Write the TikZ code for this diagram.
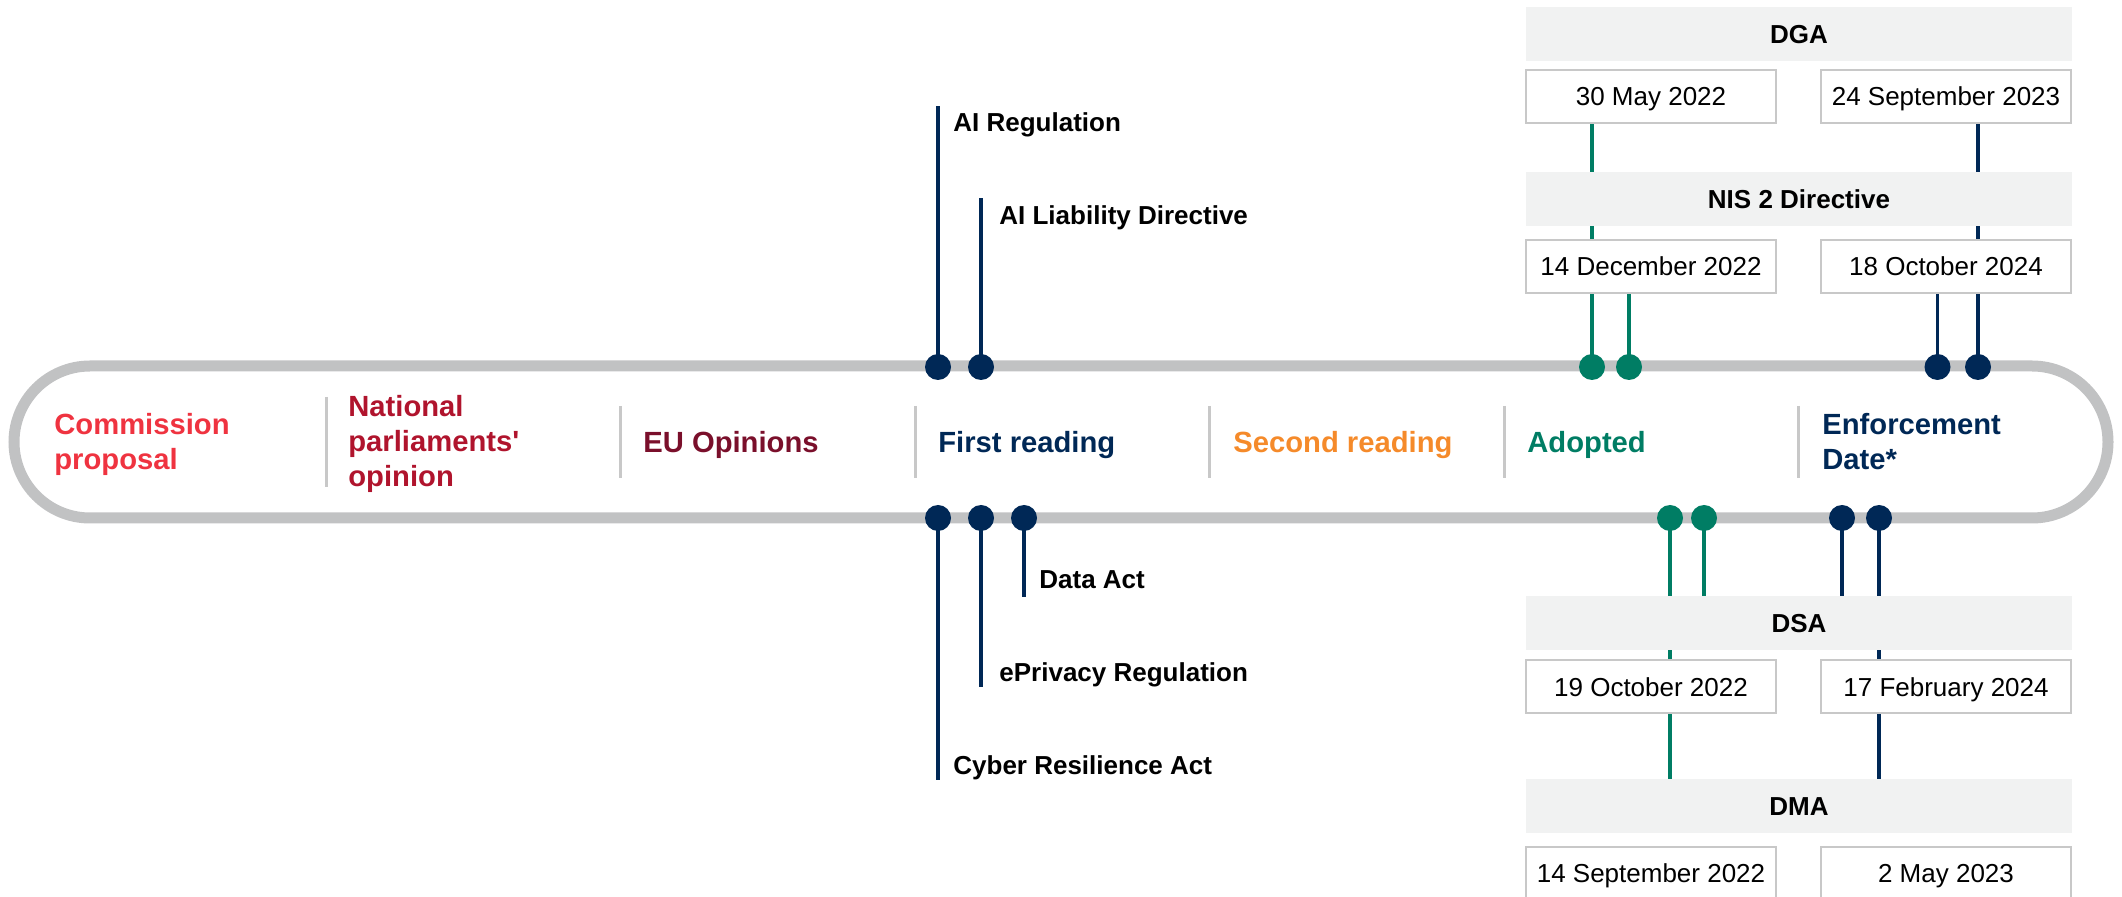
\documentclass[tikz,border=0pt]{standalone}
\usepackage{fontspec}
\setmainfont{Liberation Sans}[Ligatures=TeXOff]
\pgfdeclarelayer{background}
\pgfsetlayers{background,main}

\definecolor{navy}{RGB}{0,40,86}
\definecolor{teal}{RGB}{0,125,100}
\definecolor{trackgray}{RGB}{193,194,195}
\definecolor{sepgray}{RGB}{200,200,200}
\definecolor{headfill}{RGB}{241,242,242}
\definecolor{boxgray}{RGB}{200,200,200}
\definecolor{cred}{RGB}{239,51,64}
\definecolor{cnat}{RGB}{176,20,45}
\definecolor{ceu}{RGB}{122,15,43}
\definecolor{corange}{RGB}{245,138,42}

\newcommand\phasefont{\fontsize{14.6}{17.5}\selectfont\bfseries}
\newcommand\itemfont{\fontsize{13}{15.6}\selectfont}

\begin{document}
\begin{tikzpicture}[x=0.5pt,y=-0.5pt,
  track/.style={draw=trackgray, line width=5.5pt, rounded corners=38pt},
  sepline/.style={draw=sepgray, line width=1.5pt},
  phase/.style={anchor=base west, inner sep=0pt, align=left, font=\phasefont},
  item/.style={anchor=base west, inner sep=0pt, font=\itemfont\bfseries},
  dot/.style={circle, fill=#1, inner sep=0pt, minimum size=13pt},
  stem/.style={draw=#1, line width=1.6pt},
  head/.style={fill=headfill, minimum width=273pt, minimum height=27pt, inner sep=0pt,
    text height=9.3pt, text depth=0pt, font=\itemfont\bfseries},
  datebox/.style={draw=boxgray, line width=1pt, fill=white, minimum width=125pt,
    minimum height=26.5pt, inner sep=0pt, text height=9.3pt, text depth=0pt, font=\itemfont}
]
\useasboundingbox (0,0) rectangle (2122,897);
\clip (0,0) rectangle (2122,897);

% process track
\begin{pgfonlayer}{background}
\draw[track] (14,366) rectangle (2108,518);
\end{pgfonlayer}

% stage dividers
\draw[sepline] (326,397) -- (326,487);
\foreach \sx in {620,915,1209,1504,1798} \draw[sepline] (\sx,406) -- (\sx,478);

% stage labels (base = baseline of the last line)
\node[phase, text=cred] (p1) at (54,470) {Commission\\proposal};
\node[phase, text=cnat] (p2) at (348,487) {National\\parliaments'\\opinion};
\node[phase, text=ceu] (p3) at (643,453) {EU Opinions};
\node[phase, text=navy] (p4) at (938,453) {First reading};
\node[phase, text=corange] (p5) at (1233,453) {Second reading};
\node[phase, text=teal] (p6) at (1527,453) {Adopted};
\node[phase, text=navy] (p7) at (1822,470) {Enforcement\\Date*};

% files at first reading
\node[item] (ai) at (953,131.7) {AI Regulation};
\node[item] (ail) at (999,225) {AI Liability Directive};
\node[item] (da) at (1039,589) {Data Act};
\node[item] (ep) at (999,681.7) {ePrivacy Regulation};
\node[item] (cra) at (953,774.3) {Cyber Resilience Act};

\coordinate (tai) at (938,106);
\coordinate (tail) at (981,198);
\coordinate (tda) at (1024,597);
\coordinate (tep) at (981,687);
\coordinate (tcra) at (938,780);

\node[dot=navy] (dai) at (938,367) {};
\node[dot=navy] (dail) at (981,367) {};
\node[dot=navy] (dcra) at (938,518) {};
\node[dot=navy] (dep) at (981,518) {};
\node[dot=navy] (dda) at (1024,518) {};

% adopted / enforced files, upper block
\node[head] (dga) at (1799,34) {DGA};
\node[datebox] (dgaA) at (1651,96.5) {30 May 2022};
\node[datebox] (dgaE) at (1946,96.5) {24 September 2023};
\node[head] (nis) at (1799,199.5) {NIS 2 Directive};
\node[datebox] (nisA) at (1651,266.5) {14 December 2022};
\node[datebox] (nisE) at (1946,266.5) {18 October 2024};

\node[dot=teal] (ddgaA) at (1592,367) {};
\node[dot=teal] (dnisA) at (1629,367) {};
\node[dot=navy] (dnisE) at (1937.5,367) {};
\node[dot=navy] (ddgaE) at (1978,367) {};

% adopted / enforced files, lower block
\node[head] (dsa) at (1799,623) {DSA};
\node[datebox] (dsaA) at (1651,687) {19 October 2022};
\node[datebox] (dsaE) at (1946,687) {17 February 2024};
\node[head] (dma) at (1799,806.5) {DMA};
\node[datebox] (dmaA) at (1651,873.5) {14 September 2022};
\node[datebox] (dmaE) at (1946,873.5) {2 May 2023};

\node[dot=teal] (ddmaA) at (1670,518) {};
\node[dot=teal] (ddsaA) at (1704,518) {};
\node[dot=navy] (ddsaE) at (1842,518) {};
\node[dot=navy] (ddmaE) at (1879,518) {};

% stems
\begin{pgfonlayer}{background}
\draw[stem=navy] (dai.center) -- (tai);
\draw[stem=navy] (dail.center) -- (tail);
\draw[stem=navy] (dda.center) -- (tda);
\draw[stem=navy] (dep.center) -- (tep);
\draw[stem=navy] (dcra.center) -- (tcra);

\draw[stem=teal] (ddgaA.center) -- (ddgaA |- dgaA.south);
\draw[stem=teal] (dnisA.center) -- (dnisA |- nisA.south);
\draw[stem=navy] (dnisE.center) -- (dnisE |- nisE.south);
\draw[stem=navy] (ddgaE.center) -- (ddgaE |- dgaE.south);

\draw[stem=teal] (ddmaA.center) -- (ddmaA |- dma.north);
\draw[stem=teal] (ddsaA.center) -- (ddsaA |- dsa.north);
\draw[stem=navy] (ddsaE.center) -- (ddsaE |- dsa.north);
\draw[stem=navy] (ddmaE.center) -- (ddmaE |- dma.north);
\end{pgfonlayer}
\end{tikzpicture}
\end{document}
